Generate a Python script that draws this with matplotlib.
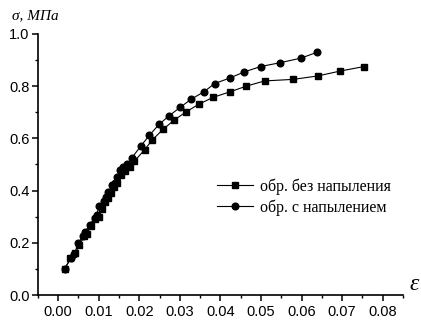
import matplotlib.pyplot as plt
import matplotlib
from matplotlib.ticker import MultipleLocator

matplotlib.rcParams['font.family'] = 'Liberation Sans'

# обр. без напыления (квадраты)
eps_bez = [0.0016, 0.0030, 0.0042, 0.0052, 0.0064, 0.0070, 0.0082, 0.0092, 0.0100,
           0.0108, 0.0116, 0.0122, 0.0130, 0.0138, 0.0146, 0.0156, 0.0165, 0.0178,
           0.0188, 0.0213, 0.0232, 0.0259, 0.0286, 0.0316, 0.0347, 0.0382, 0.0423,
           0.0464, 0.0509, 0.0580, 0.0640, 0.0696, 0.0754]
sig_bez = [0.100, 0.140, 0.160, 0.190, 0.225, 0.235, 0.265, 0.290, 0.300,
           0.330, 0.355, 0.370, 0.390, 0.415, 0.430, 0.460, 0.475, 0.492,
           0.513, 0.556, 0.594, 0.635, 0.670, 0.702, 0.731, 0.757, 0.778,
           0.800, 0.820, 0.826, 0.839, 0.858, 0.875]

# обр. с напылением (круги)
eps_s = [0.0016, 0.0031, 0.0040, 0.0050, 0.0062, 0.0066, 0.0078, 0.0090, 0.0095,
         0.0100, 0.0112, 0.0118, 0.0123, 0.0133, 0.0140, 0.0145, 0.0153, 0.0160,
         0.0170, 0.0182, 0.0204, 0.0225, 0.0249, 0.0274, 0.0301, 0.0328, 0.0359,
         0.0386, 0.0423, 0.0458, 0.0499, 0.0548, 0.0598, 0.0639]
sig_s = [0.100, 0.140, 0.157, 0.200, 0.228, 0.240, 0.270, 0.295, 0.305,
         0.340, 0.360, 0.375, 0.395, 0.420, 0.430, 0.451, 0.479, 0.490,
         0.501, 0.526, 0.571, 0.612, 0.654, 0.687, 0.719, 0.750, 0.778,
         0.810, 0.831, 0.854, 0.875, 0.890, 0.907, 0.930]

x_ticks = [0.00, 0.01, 0.02, 0.03, 0.04, 0.05, 0.06, 0.07, 0.08]
y_ticks = [0.0, 0.2, 0.4, 0.6, 0.8, 1.0]

fig = plt.figure(figsize=(4.21, 3.2), dpi=100)
ax = fig.add_axes([0.090, 0.078, 0.867, 0.816])

ax.plot(eps_bez, sig_bez, '-', color='black', lw=0.8, marker='s', ms=4.2,
        label='обр. без напыления')
ax.plot(eps_s, sig_s, '-', color='black', lw=0.8, marker='o', ms=4.8,
        label='обр. с напылением')

ax.set_xlim(-0.005, 0.085)
ax.set_ylim(0.0, 1.0)
ax.set_xticks(x_ticks)
ax.set_xticklabels([f'{v:.2f}' for v in x_ticks])
ax.set_yticks(y_ticks)
ax.set_yticklabels([f'{v:.1f}' for v in y_ticks])
ax.xaxis.set_minor_locator(MultipleLocator(0.005))
ax.yaxis.set_minor_locator(MultipleLocator(0.1))

for s in ['top', 'right']:
    ax.spines[s].set_visible(False)
for s in ['left', 'bottom']:
    ax.spines[s].set_linewidth(1.2)

ax.tick_params(which='major', direction='out', length=4, width=1.1, labelsize=10.5)
ax.tick_params(which='minor', direction='out', length=2.5, width=1.0)
ax.tick_params(axis='x', pad=3)
ax.tick_params(axis='y', pad=2)

ax.legend(loc='center left', bbox_to_anchor=(0.49, 0.375), frameon=False,
          prop={'family': 'Liberation Serif', 'size': 11.5},
          handlelength=2.3, handletextpad=0.4, labelspacing=0.3,
          borderaxespad=0, borderpad=0)

fig.text(0.028, 0.95, 'σ, МПа', family='Liberation Serif', style='italic',
         fontsize=11, ha='left', va='center')
fig.text(0.972, 0.11, 'ε', family='Liberation Serif', style='italic',
         fontsize=17, ha='left', va='center')

fig.savefig('out.png', dpi=100)
